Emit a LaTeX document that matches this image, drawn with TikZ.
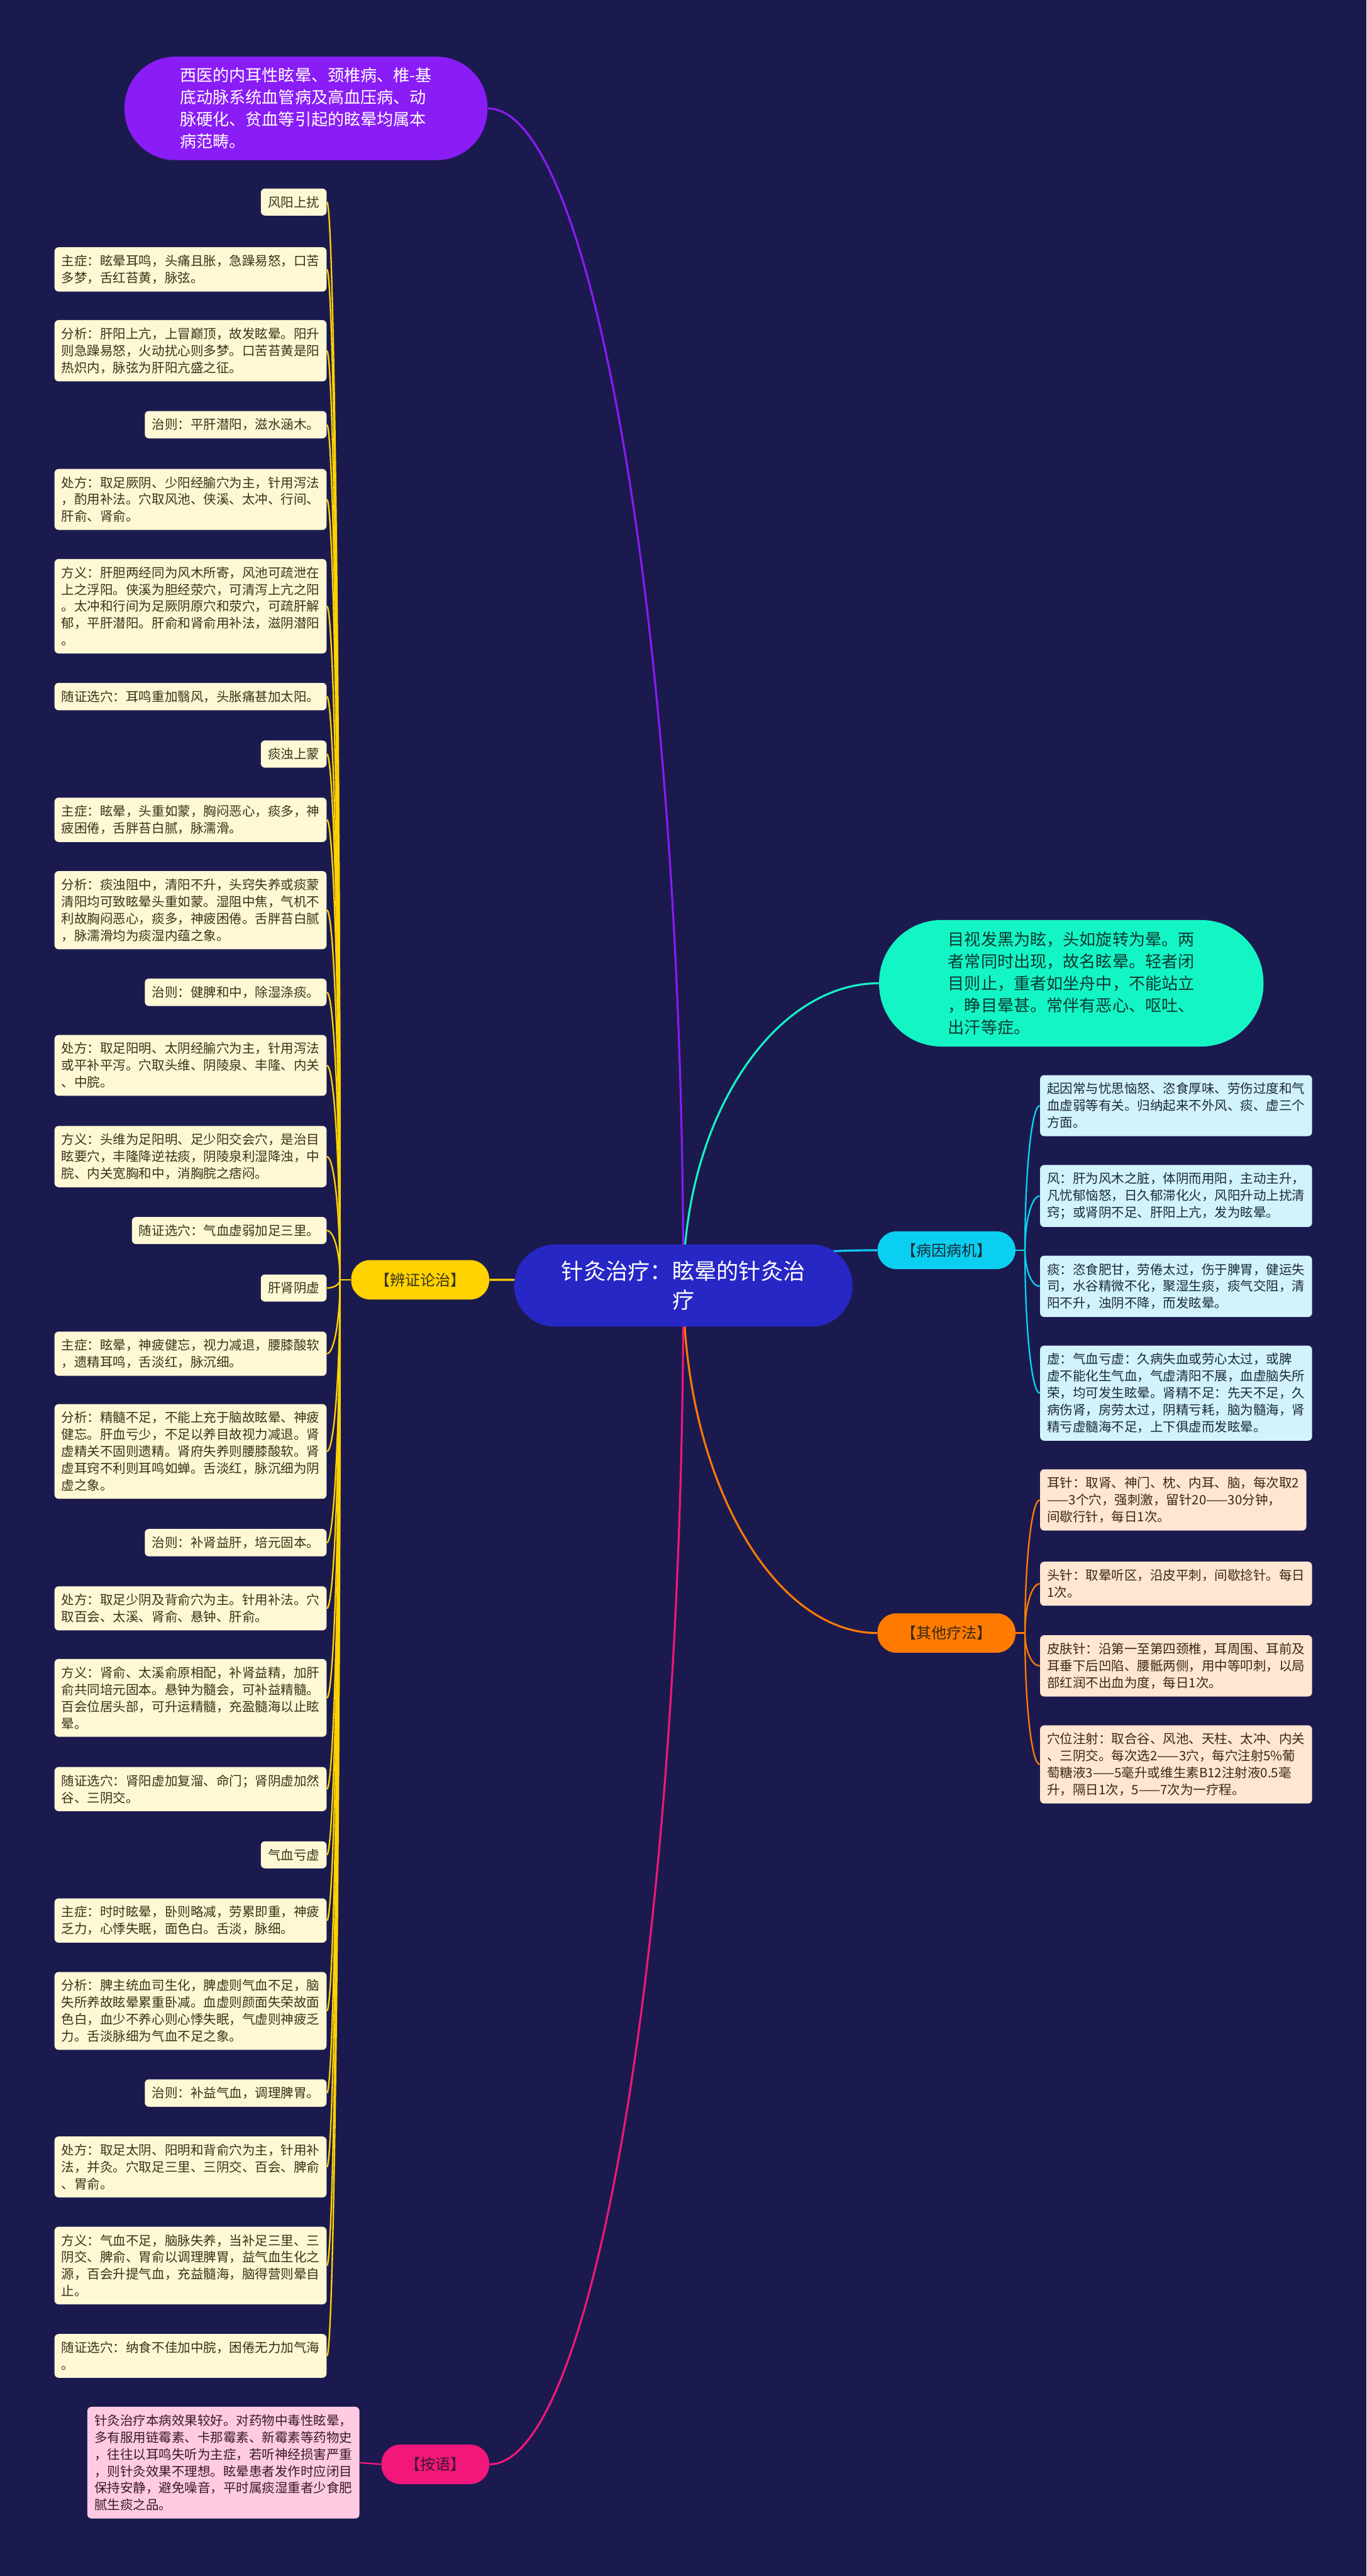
\documentclass[tikz,border=0pt]{standalone}
\usepackage{fontspec}
\newfontfamily\cjk{Noto Sans CJK SC}
\usetikzlibrary{positioning, calc}

\definecolor{navyBG}{HTML}{1B1A4F}
\definecolor{rootBlue}{HTML}{2727C6}
\definecolor{violetM}{HTML}{8A1CF6}
\definecolor{tealM}{HTML}{14F5C6}
\definecolor{yellowM}{HTML}{FFD200}
\definecolor{cyanM}{HTML}{0BCFF1}
\definecolor{orangeM}{HTML}{FF7B00}
\definecolor{pinkM}{HTML}{F2177A}
\definecolor{creamY}{HTML}{FFF8D5}
\definecolor{paleC}{HTML}{D3F3FB}
\definecolor{paleO}{HTML}{FFE6D0}
\definecolor{paleP}{HTML}{FFCBE3}
\definecolor{inkY}{HTML}{3A3318}
\definecolor{inkC}{HTML}{1A2A38}
\definecolor{inkO}{HTML}{3A2818}
\definecolor{inkP}{HTML}{3A1A2A}
\definecolor{inkT}{HTML}{0B3A30}

\newcommand{\colR}{199}   % right edge of the left column
\newcommand{\colL}{633}   % left edge of the right column

\pgfdeclarelayer{bg}
\pgfdeclarelayer{edges}
\pgfsetlayers{bg,edges,main}

\tikzset{
  % --- nodes ---
  rootnode/.style = {rounded corners=25pt, fill=rootBlue, text=white, align=center,
                     minimum width=206pt, minimum height=50pt, inner xsep=28pt,
                     font=\cjk\fontsize{13.5}{17.7}\selectfont},
  bignote/.style  = {align=left, inner ysep=6pt,
                     font=\cjk\fontsize{10}{13.4}\selectfont},
  pill/.style     = {rounded corners=11.5pt, minimum height=24pt, inner xsep=14.4pt,
                     inner ysep=2pt, font=\cjk\fontsize{9.2}{11}\selectfont},
  leaf/.style     = {rounded corners=2.5pt, align=left, inner xsep=4.3pt, inner ysep=4.6pt,
                     font=\cjk\fontsize{7.85}{10.3}\selectfont},
  bzleaf/.style   = {leaf, fill=creamY, text=inkY, anchor=east},
  byleaf/.style   = {leaf, fill=paleC, text=inkC, anchor=west},
  qtleaf/.style   = {leaf, fill=paleO, text=inkO, anchor=west},
  % --- edges ---
  mm/.style       = {to path={.. controls ($(\tikztostart)!0.55!(\tikztostart|-\tikztotarget)$)
                     and ($(\tikztostart|-\tikztotarget)!0.46!(\tikztotarget)$) .. (\tikztotarget)}},
  branch/.style   = {mm, line width=1.2pt},
  twig/.style     = {mm, line width=0.9pt},
}

\begin{document}
\begin{tikzpicture}[x=1pt, y=-1pt]

  % ===================================================================
  %  CANVAS
  % ===================================================================
  \begin{pgfonlayer}{bg}
    \fill[navyBG] (0,0) rectangle (832,1568);
  \end{pgfonlayer}
  \useasboundingbox (0,0) rectangle (832,1568);

  % ===================================================================
  %  ROOT + FIRST LEVEL
  % ===================================================================
  \node[rootnode] (root) at (416,782.5) {针灸治疗：眩晕的针灸治\\疗};

  \node[bignote, rounded corners=31pt, fill=violetM, text=white, anchor=east,
        minimum width=221pt, minimum height=63pt, inner xsep=33pt] (xiyi) at (297,66)
    {西医的内耳性眩晕、颈椎病、椎-基\\底动脉系统血管病及高血压病、动\\脉硬化、贫血等引起的眩晕均属本\\病范畴。};

  \node[bignote, rounded corners=38pt, fill=tealM, text=inkT, anchor=west,
        minimum width=234pt, minimum height=77pt, inner xsep=42pt] (dingyi) at (535,598.5)
    {目视发黑为眩，头如旋转为晕。两\\者常同时出现，故名眩晕。轻者闭\\目则止，重者如坐舟中，不能站立\\，睁目晕甚。常伴有恶心、呕吐、\\出汗等症。};

  \node[pill, fill=yellowM, text=inkY, anchor=east] (bzlz) at (298,779)  {【辨证论治】};
  \node[pill, fill=cyanM,   text=inkC, anchor=west, minimum height=23pt] (bybj) at (534,761) {【病因病机】};
  \node[pill, fill=orangeM, text=inkO, anchor=west] (qtlf) at (534,994)  {【其他疗法】};
  \node[pill, fill=pinkM,   text=inkP, anchor=east] (any)  at (298,1500) {【按语】};

  % ===================================================================
  %  LEFT COLUMN  (辨证论治)
  % ===================================================================
  % --- 风阳上扰 ---
  \node[bzleaf] (L1)  at (\colR,123)  {风阳上扰};
  \node[bzleaf] (L2)  at (\colR,164)  {主症：眩晕耳鸣，头痛且胀，急躁易怒，口苦\\多梦，舌红苔黄，脉弦。};
  \node[bzleaf] (L3)  at (\colR,213.5){分析：肝阳上亢，上冒巅顶，故发眩晕。阳升\\则急躁易怒，火动扰心则多梦。口苦苔黄是阳\\热炽内，脉弦为肝阳亢盛之征。};
  \node[bzleaf] (L4)  at (\colR,258.5){治则：平肝潜阳，滋水涵木。};
  \node[bzleaf] (L5)  at (\colR,304)  {处方：取足厥阴、少阳经腧穴为主，针用泻法\\，酌用补法。穴取风池、侠溪、太冲、行间、\\肝俞、肾俞。};
  \node[bzleaf] (L6)  at (\colR,369)  {方义：肝胆两经同为风木所寄，风池可疏泄在\\上之浮阳。侠溪为胆经荥穴，可清泻上亢之阳\\。太冲和行间为足厥阴原穴和荥穴，可疏肝解\\郁，平肝潜阳。肝俞和肾俞用补法，滋阴潜阳\\。};
  \node[bzleaf] (L7)  at (\colR,424)  {随证选穴：耳鸣重加翳风，头胀痛甚加太阳。};
  % --- 痰浊上蒙 ---
  \node[bzleaf] (L8)  at (\colR,459)  {痰浊上蒙};
  \node[bzleaf] (L9)  at (\colR,499)  {主症：眩晕，头重如蒙，胸闷恶心，痰多，神\\疲困倦，舌胖苔白腻，脉濡滑。};
  \node[bzleaf] (L10) at (\colR,554)  {分析：痰浊阻中，清阳不升，头窍失养或痰蒙\\清阳均可致眩晕头重如蒙。湿阻中焦，气机不\\利故胸闷恶心，痰多，神疲困倦。舌胖苔白腻\\，脉濡滑均为痰湿内蕴之象。};
  \node[bzleaf] (L11) at (\colR,604)  {治则：健脾和中，除湿涤痰。};
  \node[bzleaf] (L12) at (\colR,648.5){处方：取足阳明、太阴经腧穴为主，针用泻法\\或平补平泻。穴取头维、阴陵泉、丰隆、内关\\、中脘。};
  \node[bzleaf] (L13) at (\colR,704)  {方义：头维为足阳明、足少阳交会穴，是治目\\眩要穴，丰隆降逆祛痰，阴陵泉利湿降浊，中\\脘、内关宽胸和中，消胸脘之痞闷。};
  \node[bzleaf] (L14) at (\colR,749)  {随证选穴：气血虚弱加足三里。};
  % --- 肝肾阴虚 ---
  \node[bzleaf] (L15) at (\colR,784)  {肝肾阴虚};
  \node[bzleaf] (L16) at (\colR,824)  {主症：眩晕，神疲健忘，视力减退，腰膝酸软\\，遗精耳鸣，舌淡红，脉沉细。};
  \node[bzleaf] (L17) at (\colR,883.5){分析：精髓不足，不能上充于脑故眩晕、神疲\\健忘。肝血亏少，不足以养目故视力减退。肾\\虚精关不固则遗精。肾府失养则腰膝酸软。肾\\虚耳窍不利则耳鸣如蝉。舌淡红，脉沉细为阴\\虚之象。};
  \node[bzleaf] (L18) at (\colR,939)  {治则：补肾益肝，培元固本。};
  \node[bzleaf] (L19) at (\colR,979)  {处方：取足少阴及背俞穴为主。针用补法。穴\\取百会、太溪、肾俞、悬钟、肝俞。};
  \node[bzleaf] (L20) at (\colR,1033.5){方义：肾俞、太溪俞原相配，补肾益精，加肝\\俞共同培元固本。悬钟为髓会，可补益精髓。\\百会位居头部，可升运精髓，充盈髓海以止眩\\晕。};
  \node[bzleaf] (L21) at (\colR,1089) {随证选穴：肾阳虚加复溜、命门；肾阴虚加然\\谷、三阴交。};
  % --- 气血亏虚 ---
  \node[bzleaf] (L22) at (\colR,1129) {气血亏虚};
  \node[bzleaf] (L23) at (\colR,1169) {主症：时时眩晕，卧则略减，劳累即重，神疲\\乏力，心悸失眠，面色白。舌淡，脉细。};
  \node[bzleaf] (L24) at (\colR,1224) {分析：脾主统血司生化，脾虚则气血不足，脑\\失所养故眩晕累重卧减。血虚则颜面失荣故面\\色白，血少不养心则心悸失眠，气虚则神疲乏\\力。舌淡脉细为气血不足之象。};
  \node[bzleaf] (L25) at (\colR,1274) {治则：补益气血，调理脾胃。};
  \node[bzleaf] (L26) at (\colR,1319) {处方：取足太阴、阳明和背俞穴为主，针用补\\法，并灸。穴取足三里、三阴交、百会、脾俞\\、胃俞。};
  \node[bzleaf] (L27) at (\colR,1379) {方义：气血不足，脑脉失养，当补足三里、三\\阴交、脾俞、胃俞以调理脾胃，益气血生化之\\源，百会升提气血，充益髓海，脑得营则晕自\\止。};
  \node[bzleaf] (L28) at (\colR,1434) {随证选穴：纳食不佳加中脘，困倦无力加气海\\。};

  % --- 按语 ---
  \node[leaf, fill=paleP, text=inkP, anchor=east] (anyu) at (219,1499)
    {针灸治疗本病效果较好。对药物中毒性眩晕，\\多有服用链霉素、卡那霉素、新霉素等药物史\\，往往以耳鸣失听为主症，若听神经损害严重\\，则针灸效果不理想。眩晕患者发作时应闭目\\保持安静，避免噪音，平时属痰湿重者少食肥\\腻生痰之品。};

  % ===================================================================
  %  RIGHT COLUMN  (病因病机 / 其他疗法)
  % ===================================================================
  \node[byleaf] (R1) at (\colL,673) {起因常与忧思恼怒、恣食厚味、劳伤过度和气\\血虚弱等有关。归纳起来不外风、痰、虚三个\\方面。};
  \node[byleaf] (R2) at (\colL,728) {风：肝为风木之脏，体阴而用阳，主动主升，\\凡忧郁恼怒，日久郁滞化火，风阳升动上扰清\\窍；或肾阴不足、肝阳上亢，发为眩晕。};
  \node[byleaf] (R3) at (\colL,783) {痰：恣食肥甘，劳倦太过，伤于脾胃，健运失\\司，水谷精微不化，聚湿生痰，痰气交阻，清\\阳不升，浊阴不降，而发眩晕。};
  \node[byleaf] (R4) at (\colL,848) {虚：气血亏虚：久病失血或劳心太过，或脾\\虚不能化生气血，气虚清阳不展，血虚脑失所\\荣，均可发生眩晕。肾精不足：先天不足，久\\病伤肾，房劳太过，阴精亏耗，脑为髓海，肾\\精亏虚髓海不足，上下俱虚而发眩晕。};

  \node[qtleaf] (Q1) at (\colL,913)  {耳针：取肾、神门、枕、内耳、脑，每次取2\\——3个穴，强刺激，留针20——30分钟，\\间歇行针，每日1次。};
  \node[qtleaf] (Q2) at (\colL,964)  {头针：取晕听区，沿皮平刺，间歇捻针。每日\\1次。};
  \node[qtleaf] (Q3) at (\colL,1014) {皮肤针：沿第一至第四颈椎，耳周围、耳前及\\耳垂下后凹陷、腰骶两侧，用中等叩刺，以局\\部红润不出血为度，每日1次。};
  \node[qtleaf] (Q4) at (\colL,1074) {穴位注射：取合谷、风池、天柱、太冲、内关\\、三阴交。每次选2——3穴，每穴注射5\%葡\\萄糖液3——5毫升或维生素B12注射液0.5毫\\升，隔日1次，5——7次为一疗程。};

  % ===================================================================
  %  CONNECTORS
  % ===================================================================
  \coordinate (stubL) at (207,779);
  \coordinate (stubB) at (624,761);
  \coordinate (stubQ) at (624,994);

  \begin{pgfonlayer}{edges}
    \draw[branch, violetM] (root.center) to (xiyi.east);
    \draw[branch, tealM]   (root.center) to (dingyi.west);
    \draw[branch, cyanM]   (root.center) to (bybj.west);
    \draw[branch, yellowM] (root.center) to (bzlz.east);
    \draw[branch, orangeM] (root.center) to (qtlf.west);
    \draw[branch, pinkM]   (root.center) to (any.east);

    \draw[twig, yellowM] (bzlz.west) -- (stubL);
    \foreach \n in {1,...,28} \draw[twig, yellowM] (stubL) to (L\n.east);

    \draw[twig, cyanM] (bybj.east) -- (stubB);
    \foreach \n in {1,...,4} \draw[twig, cyanM] (stubB) to (R\n.west);

    \draw[twig, orangeM] (qtlf.east) -- (stubQ);
    \foreach \n in {1,...,4} \draw[twig, orangeM] (stubQ) to (Q\n.west);

    \draw[twig, pinkM] (any.west) -- (anyu.east);
  \end{pgfonlayer}

\end{tikzpicture}
\end{document}
